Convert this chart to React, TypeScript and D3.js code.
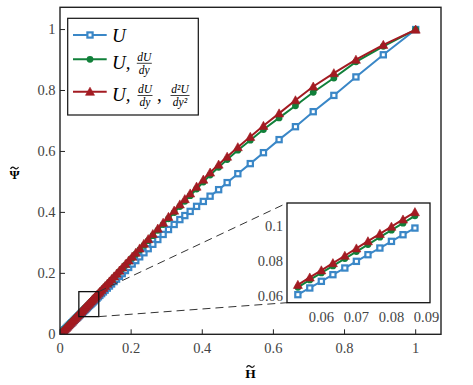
import * as d3 from 'd3'

// grid in H~ (finer near the origin) and the three Psi~ curves
const hGrid = [0, 0.0033, 0.0067, 0.01, 0.0133, 0.0167, 0.02, 0.0233, 0.0267, 0.03, 0.0333, 0.0367, 0.04, 0.0433, 0.0467, 0.05, 0.0533, 0.0567, 0.06, 0.0633, 0.0667, 0.07, 0.0733, 0.0767, 0.08, 0.0833, 0.0867, 0.09, 0.0933, 0.0967, 0.1,
  0.104, 0.108, 0.112, 0.117, 0.122, 0.127, 0.133, 0.139, 0.145, 0.152, 0.159, 0.167, 0.175, 0.184, 0.193, 0.203, 0.213, 0.224, 0.236, 0.248, 0.261, 0.275, 0.29, 0.305, 0.321, 0.337, 0.351, 0.366, 0.384, 0.403, 0.422, 0.446, 0.47, 0.5, 0.535, 0.572, 0.616, 0.662, 0.712, 0.77, 0.832, 0.909, 1]

const psiU = [0, 0.0038, 0.0076, 0.0114, 0.0152, 0.019, 0.0228, 0.0266, 0.0304, 0.0342, 0.038, 0.0418, 0.0456, 0.0494, 0.0532, 0.057, 0.0608, 0.0646, 0.0684, 0.0722, 0.076, 0.0798, 0.0836, 0.0874, 0.0912, 0.095, 0.0988, 0.1026, 0.1064, 0.1102, 0.114,
  0.1186, 0.1231, 0.1277, 0.1334, 0.1391, 0.1448, 0.1516, 0.1584, 0.1652, 0.1731, 0.181, 0.19, 0.199, 0.2092, 0.2194, 0.2306, 0.2419, 0.2542, 0.2676, 0.281, 0.2954, 0.311, 0.3277, 0.3438, 0.3604, 0.3764, 0.3896, 0.4033, 0.4198, 0.436, 0.4532, 0.4746, 0.4977, 0.527, 0.5601, 0.596, 0.6388, 0.6812, 0.7305, 0.7839, 0.8445, 0.9172, 1]

const psiUdU = [0, 0.004, 0.0082, 0.0122, 0.0162, 0.0204, 0.0244, 0.0284, 0.0326, 0.0366, 0.0406, 0.0448, 0.0488, 0.0528, 0.057, 0.061, 0.065, 0.0692, 0.0732, 0.0772, 0.0814, 0.0854, 0.0894, 0.0936, 0.0976, 0.1016, 0.1058, 0.1098, 0.1138, 0.118, 0.122,
  0.1269, 0.1319, 0.1368, 0.143, 0.1492, 0.1553, 0.1628, 0.1703, 0.1778, 0.1865, 0.1952, 0.2052, 0.2152, 0.2265, 0.2378, 0.2504, 0.263, 0.2769, 0.292, 0.3071, 0.3235, 0.3411, 0.3602, 0.3791, 0.3993, 0.4193, 0.4365, 0.4548, 0.4768, 0.4996, 0.5224, 0.5481, 0.5736, 0.6041, 0.637, 0.6721, 0.71, 0.75, 0.7941, 0.841, 0.8941, 0.9449, 1]

const psiUdUd2U = [0, 0.0041, 0.0083, 0.0125, 0.0166, 0.0208, 0.0249, 0.029, 0.0332, 0.0374, 0.0415, 0.0457, 0.0498, 0.0539, 0.0581, 0.0623, 0.0664, 0.0706, 0.0747, 0.0788, 0.083, 0.0872, 0.0913, 0.0955, 0.0996, 0.1037, 0.1079, 0.1121, 0.1162, 0.1204, 0.1245,
  0.1297, 0.1347, 0.1397, 0.146, 0.1523, 0.1585, 0.1661, 0.1737, 0.1813, 0.1901, 0.199, 0.2091, 0.2193, 0.2307, 0.2422, 0.255, 0.2677, 0.2818, 0.2971, 0.3125, 0.3291, 0.347, 0.3663, 0.3855, 0.406, 0.4263, 0.4437, 0.4623, 0.4846, 0.5078, 0.5309, 0.557, 0.583, 0.614, 0.648, 0.6841, 0.725, 0.768, 0.8131, 0.857, 0.9011, 0.9499, 1]

const xTicks = [0, 0.2, 0.4, 0.6, 0.8, 1]
const yTicks = [0, 0.2, 0.4, 0.6, 0.8, 1]
const insetXTicks = [0.06, 0.07, 0.08, 0.09]
const insetYTicks = [0.06, 0.08, 0.1]
const insetRange = [0.052, 0.088]   // H~ values shown in the inset
const zoomX = [0.053, 0.109]        // the little box on the main axes
const zoomY = [0.058, 0.14]

const SERIF = 'Liberation Serif, Times New Roman, serif'
const BLUE = '#3a87c7'
const GREEN = '#11803a'
const RED = '#a31b22'
const TICK = '#444'

const W = 473, H = 385
const plot = { l: 60, r: 441, t: 7.3, b: 334.3 }
const ins = { l: 287, r: 430, t: 203, b: 302.7 }

const series = [
  { vals: psiU, color: BLUE, kind: 's' },
  { vals: psiUdU, color: GREEN, kind: 'o' },
  { vals: psiUdUd2U, color: RED, kind: '^' },
]

function Marker({ kind, cx, cy, color }: { kind: string; cx: number; cy: number; color: string }) {
  if (kind === 's') {
    return <rect x={cx - 2.6} y={cy - 2.6} width={5.2} height={5.2} fill="white" stroke={color} strokeWidth={2.2} />
  }
  if (kind === 'o') return <circle cx={cx} cy={cy} r={3.4} fill={color} />
  const s = 4.5
  return <path d={`M${cx},${cy - s}L${cx + s},${cy + s * 0.8}L${cx - s},${cy + s * 0.8}Z`} fill={color} stroke={color} strokeWidth={0.6} />
}

function Tilde({ cx, cy }: { cx: number; cy: number }) {
  return <path d={`M${cx - 4},${cy + 1}C${cx - 2.5},${cy - 1.6} ${cx - 1},${cy - 1} ${cx},${cy}S${cx + 2.5},${cy + 1.6} ${cx + 4},${cy - 1}`}
    fill="none" stroke="#111" strokeWidth={1.2} />
}

function Frac({ cx, bar, num, den, w }: { cx: number; bar: number; num: string; den: string; w: number }) {
  return (
    <g fontFamily={SERIF} fontStyle="italic" fontSize={11.5} textAnchor="middle">
      <text x={cx} y={bar - 2.8}>{num}</text>
      <line x1={cx - w / 2} x2={cx + w / 2} y1={bar} y2={bar} stroke="#111" strokeWidth={0.8} />
      <text x={cx} y={bar + 10.5}>{den}</text>
    </g>
  )
}

export default function App() {
  const x = d3.scaleLinear().domain([0, 1.0712]).range([plot.l, plot.r])
  const y = d3.scaleLinear().domain([0, 1.073]).range([plot.b, plot.t])
  const xi = d3.scaleLinear().domain([0.0502, 0.091]).range([ins.l, ins.r])
  const yi = d3.scaleLinear().domain([0.0562, 0.1131]).range([ins.b, ins.t])

  const mainLine = (vals: number[]) =>
    d3.line<number>().x((_, i) => x(hGrid[i])).y(d => y(d))(vals) || ''

  const insetIdx = hGrid.map((h, i) => i).filter(i => hGrid[i] >= insetRange[0] && hGrid[i] <= insetRange[1])
  const insetLine = (vals: number[]) =>
    d3.line<number>().x(i => xi(hGrid[i])).y(i => yi(vals[i]))(insetIdx) || ''

  const bx0 = x(zoomX[0]), bx1 = x(zoomX[1])
  const by0 = y(zoomY[0]), by1 = y(zoomY[1])

  const legendRows = [
    { y: 35, color: BLUE, kind: 's' },
    { y: 59.3, color: GREEN, kind: 'o' },
    { y: 91.7, color: RED, kind: '^' },
  ]

  const xMid = (plot.l + plot.r) / 2

  return (
    <div style={{ position: 'absolute', left: 0, top: 0 }}>
      <svg width={W} height={H} style={{ display: 'block', background: 'white' }}>
        <defs>
          <clipPath id="clipMain">
            <rect x={plot.l} y={plot.t} width={plot.r - plot.l} height={plot.b - plot.t} />
          </clipPath>
          <clipPath id="clipInset">
            <rect x={ins.l} y={ins.t} width={ins.r - ins.l} height={ins.b - ins.t} />
          </clipPath>
        </defs>

        {/* main curves */}
        <g clipPath="url(#clipMain)">
          {series.map((s, k) => (
            <g key={k}>
              <path d={mainLine(s.vals)} fill="none" stroke={s.color} strokeWidth={2} />
              {s.vals.map((v, i) => (
                <Marker key={i} kind={s.kind} cx={x(hGrid[i])} cy={y(v)} color={s.color} />
              ))}
            </g>
          ))}
        </g>

        {/* frame */}
        <rect x={plot.l} y={plot.t} width={plot.r - plot.l} height={plot.b - plot.t} fill="none" stroke="#222" strokeWidth={1.4} />

        {/* ticks + labels */}
        {xTicks.map(t => (
          <g key={'x' + t}>
            <line x1={x(t)} x2={x(t)} y1={plot.b} y2={plot.b - 5} stroke="#222" strokeWidth={1} />
            <text x={x(t)} y={plot.b + 19} textAnchor="middle" fontFamily={SERIF} fontSize={14.5} fill={TICK}>{d3.format('~g')(t)}</text>
          </g>
        ))}
        {yTicks.map(t => (
          <g key={'y' + t}>
            <line x1={plot.l} x2={plot.l + 5} y1={y(t)} y2={y(t)} stroke="#222" strokeWidth={1} />
            <text x={plot.l - 4.5} y={y(t) + 4.8} textAnchor="end" fontFamily={SERIF} fontSize={14.5} fill={TICK}>{d3.format('~g')(t)}</text>
          </g>
        ))}

        {/* axis titles */}
        <text x={xMid} y={378} textAnchor="middle" fontFamily={SERIF} fontWeight="bold" fontSize={13.5}>H</text>
        <Tilde cx={xMid} cy={366.5} />
        <text x={14.5} y={179} textAnchor="middle" fontFamily={SERIF} fontWeight="bold" fontSize={13}>Ψ</text>
        <Tilde cx={14.5} cy={168} />

        {/* zoom box and connectors */}
        <rect x={bx0} y={by1} width={bx1 - bx0} height={by0 - by1} fill="none" stroke="#111" strokeWidth={1.3} />
        <line x1={bx1} y1={by1} x2={ins.l} y2={ins.t} stroke="#333" strokeWidth={1} strokeDasharray="8,5" />
        <line x1={bx1} y1={by0} x2={ins.l} y2={ins.b} stroke="#333" strokeWidth={1} strokeDasharray="8,5" />

        {/* inset */}
        <rect x={ins.l} y={ins.t} width={ins.r - ins.l} height={ins.b - ins.t} fill="white" />
        <g clipPath="url(#clipInset)">
          {series.map((s, k) => (
            <g key={k}>
              <path d={insetLine(s.vals)} fill="none" stroke={s.color} strokeWidth={2} />
              {insetIdx.map(i => (
                <Marker key={i} kind={s.kind} cx={xi(hGrid[i])} cy={yi(s.vals[i])} color={s.color} />
              ))}
            </g>
          ))}
        </g>
        <rect x={ins.l} y={ins.t} width={ins.r - ins.l} height={ins.b - ins.t} fill="none" stroke="#111" strokeWidth={1.3} />
        {insetXTicks.map(t => (
          <text key={'ix' + t} x={xi(t)} y={ins.b + 19.5} textAnchor="middle" fontFamily={SERIF} fontSize={14.5} fill={TICK}>{t.toFixed(2)}</text>
        ))}
        {insetYTicks.map(t => (
          <text key={'iy' + t} x={ins.l - 4} y={yi(t) + 4.8} textAnchor="end" fontFamily={SERIF} fontSize={14.5} fill={TICK}>{d3.format('~g')(t)}</text>
        ))}

        {/* legend */}
        <rect x={67.7} y={18.3} width={130.6} height={96.7} fill="white" stroke="#111" strokeWidth={1.2} />
        {legendRows.map((r, k) => (
          <g key={k}>
            <line x1={73} x2={106.7} y1={r.y} y2={r.y} stroke={r.color} strokeWidth={2} />
            <Marker kind={r.kind} cx={90} cy={r.y} color={r.color} />
          </g>
        ))}
        <g fontFamily={SERIF} fontStyle="italic" fontSize={19}>
          <text x={112} y={41.5}>U</text>
          <text x={112} y={69}>U,</text>
          <text x={112} y={101}>U,</text>
          <text x={157} y={101} fontStyle="normal">,</text>
        </g>
        <Frac cx={144.3} bar={63.3} num="dU" den="dy" w={15} />
        <Frac cx={145} bar={95.5} num="dU" den="dy" w={15} />
        <Frac cx={180} bar={95.5} num="d²U" den="dy²" w={19} />
      </svg>
    </div>
  )
}
